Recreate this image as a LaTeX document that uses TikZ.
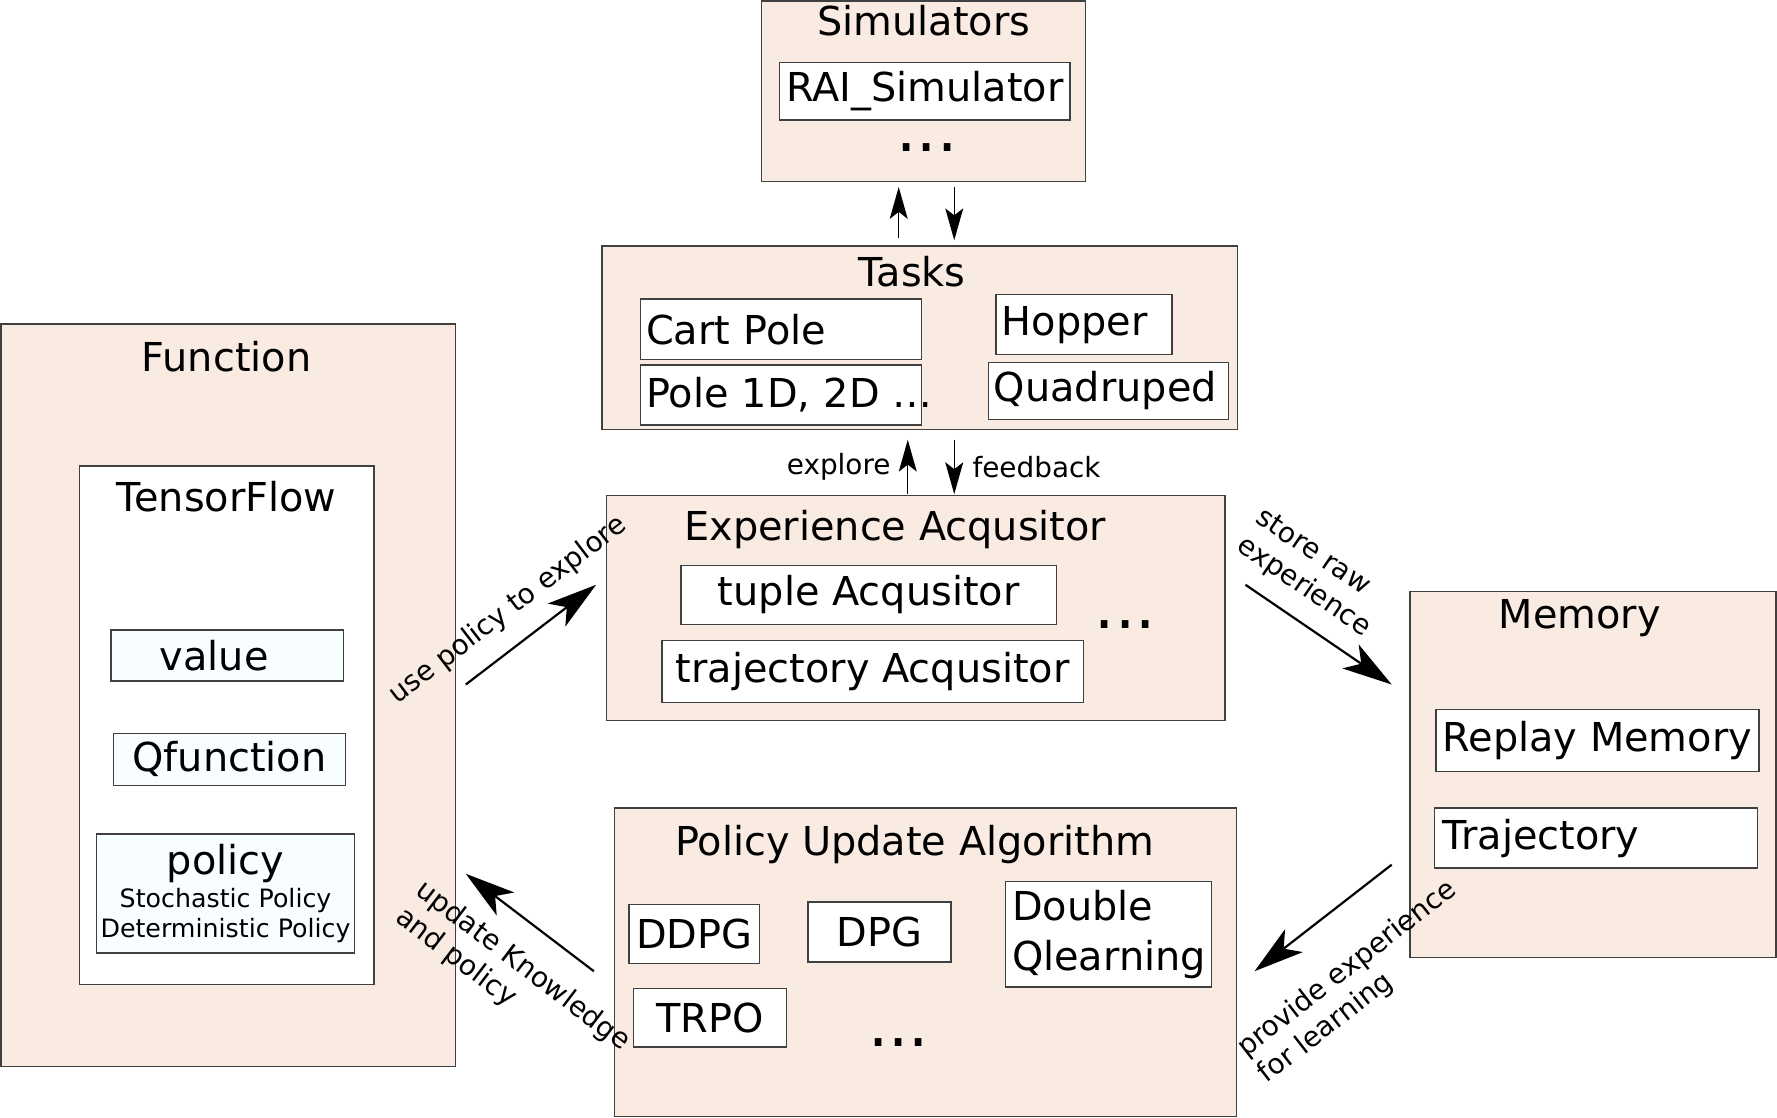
\documentclass[tikz,border=0pt]{standalone}
\usepackage{fontspec}
\setmainfont{DejaVu Sans}
\usepackage{tikz}
\usetikzlibrary{arrows.meta}

\definecolor{boxpink}{RGB}{249,234,226}
\definecolor{icecyan}{RGB}{248,254,255}

\tikzset{
	group/.style={draw=black!75, line width=0.7pt, fill=boxpink, inner sep=0pt},
	item/.style={draw=black!75, line width=0.7pt, fill=white, inner sep=0pt,
		font=\fontsize{20}{25}\selectfont},
	lefttext/.style={align=left, inner xsep=#1},
	title/.style={anchor=base, font=\fontsize{20}{24}\selectfont},
	dots/.style={font=\fontsize{32}{36}\selectfont},
	note/.style={font=\fontsize{14}{17}\selectfont, align=left},
	flow/.style={-{Stealth[length=25pt,width=14.5pt,inset=6.5pt]}, line width=1.1pt},
	link/.style={-{Stealth[length=16pt,width=9pt,inset=3.5pt]}, line width=0.7pt},
}

\begin{document}
\begin{tikzpicture}[x=0.02cm, y=-0.02cm]
		\useasboundingbox (0,0) rectangle (1568,986);
		% groups
		\node[group, minimum width=5.72cm, minimum height=3.18cm] (sim) at (815,80.5) {};
		\node[group, minimum width=11.22cm, minimum height=3.24cm] (tasks) at (811.5,298) {};
		\node[group, minimum width=10.92cm, minimum height=3.98cm] (exp) at (808,536.5) {};
		\node[group, minimum width=8.02cm, minimum height=13.1cm] (func) at (201.5,613.5) {};
		\node[group, minimum width=6.46cm, minimum height=6.46cm] (mem) at (1405.5,683.5) {};
		\node[group, minimum width=10.98cm, minimum height=5.44cm] (pua) at (816.5,849) {};
		\node[item, minimum width=5.2cm, minimum height=9.16cm] (tf) at (200,640) {};
		%
		\node[title] (simT) at (815,31) {Simulators};
		\node[title] (tasksT) at (805,253) {Tasks};
		\node[title] (expT) at (790,477) {Experience Acqusitor};
		\node[title] (funcT) at (200,328) {Function};
		\node[title] (tfT) at (200,451) {TensorFlow};
		\node[title] (memT) at (1394,555) {Memory};
		\node[title] (puaT) at (807,755) {Policy Update Algorithm};
		%
		% simulators
		\node[item, minimum width=5.12cm, minimum height=1.02cm] (rai) at (816,80.5) {RAI\_Simulator};
		\node[dots] (simD) at (818,130) {...};
		% tasks
		\node[item, lefttext=0.1cm, text width=4.76cm, minimum width=4.96cm, minimum height=1.06cm] (cart) at (689,290.5) {Cart Pole};
		\node[item, lefttext=0.1cm, text width=4.76cm, minimum width=4.96cm, minimum height=1.06cm] (pole) at (689,348.5) {\mbox{Pole 1D, 2D …}};
		\node[item, lefttext=0.1cm, text width=2.9cm, minimum width=3.1cm, minimum height=1.06cm] (hop) at (956.5,286.5) {Hopper};
		\node[item, lefttext=0.1cm, text width=4.04cm, minimum width=4.24cm, minimum height=1cm] (quad) at (978,345) {Quadruped};
		% experience
		\node[item, minimum width=6.62cm, minimum height=1.04cm] (tuple) at (766.5,525) {tuple Acqusitor};
		\node[item, minimum width=7.44cm, minimum height=1.1cm] (traj) at (770,592.5) {trajectory Acqusitor};
		\node[dots] (expD) at (993,551) {...};
		% function
		\node[item, fill=icecyan, lefttext=0.86cm, text width=2.38cm, minimum width=4.1cm, minimum height=0.9cm] (val) at (200.5,578.5) {value};
		\node[item, fill=icecyan, minimum width=4.1cm, minimum height=0.92cm] (qf) at (202.5,670) {Qfunction};
		\node[item, fill=icecyan, align=center, minimum width=4.56cm, minimum height=2.1cm,
			font=\fontsize{12.7}{15.4}\selectfont] (pol) at (199,788.5)
			{{\fontsize{20}{24}\selectfont policy}\\[1pt] Stochastic Policy\\ Deterministic Policy};
		% memory
		\node[item, minimum width=5.7cm, minimum height=1.1cm] (rep) at (1409.5,653.5) {Replay Memory};
		\node[item, lefttext=0.14cm, text width=5.42cm, minimum width=5.7cm, minimum height=1.06cm] (trj) at (1408.5,739.5) {Trajectory};
		% policy update
		\node[item, minimum width=2.3cm, minimum height=1.04cm] (ddpg) at (612.5,824) {DDPG};
		\node[item, minimum width=2.52cm, minimum height=1.06cm] (dpg) at (776,822.5) {DPG};
		\node[item, lefttext=0.12cm, text width=3.4cm, minimum width=3.64cm, minimum height=1.86cm] (dq) at (978,824.5) {Double\\Qlearning};
		\node[item, minimum width=2.7cm, minimum height=1.04cm] (trpo) at (626.5,898) {TRPO};
		\node[dots] (puaD) at (793,920) {...};
		%
		% arrow ends
		\coordinate (simUpA) at (793,210);
		\coordinate (simUpB) at (793,165);
		\coordinate (simDnA) at (842,165);
		\coordinate (simDnB) at (842,212);
		\coordinate (expUpA) at (801,436);
		\coordinate (expUpB) at (801,388);
		\coordinate (expDnA) at (842,388);
		\coordinate (expDnB) at (842,436);
		\coordinate (useA) at (411,604);
		\coordinate (useB) at (526,516);
		\coordinate (storeA) at (1099,516);
		\coordinate (storeB) at (1228,604);
		\coordinate (provA) at (1228,763);
		\coordinate (provB) at (1107,857);
		\coordinate (updA) at (524,857);
		\coordinate (updB) at (411,771);
		%
		\path[link]
		% vertical arrows
		(simUpA) edge (simUpB)
		(simDnA) edge (simDnB)
		(expUpA) edge node[note, left=5pt] {explore} (expUpB)
		(expDnA) edge node[note, right=5.5pt] {feedback} (expDnB);
		\path[flow]
		% diagonal arrows
		(useA) edge node[note, sloped, above=6pt, pos=.48] {use policy to explore} (useB)
		(storeA) edge node[note, sloped, above=5pt, pos=.28] {store raw\\experience} (storeB)
		(provA) edge node[note, sloped, below=17pt, pos=.57] {provide experience\\for learning} (provB)
		(updA) edge node[note, sloped, below=9pt, pos=.37] {update Knowledge\\and policy} (updB);
	\end{tikzpicture}
\end{document}
